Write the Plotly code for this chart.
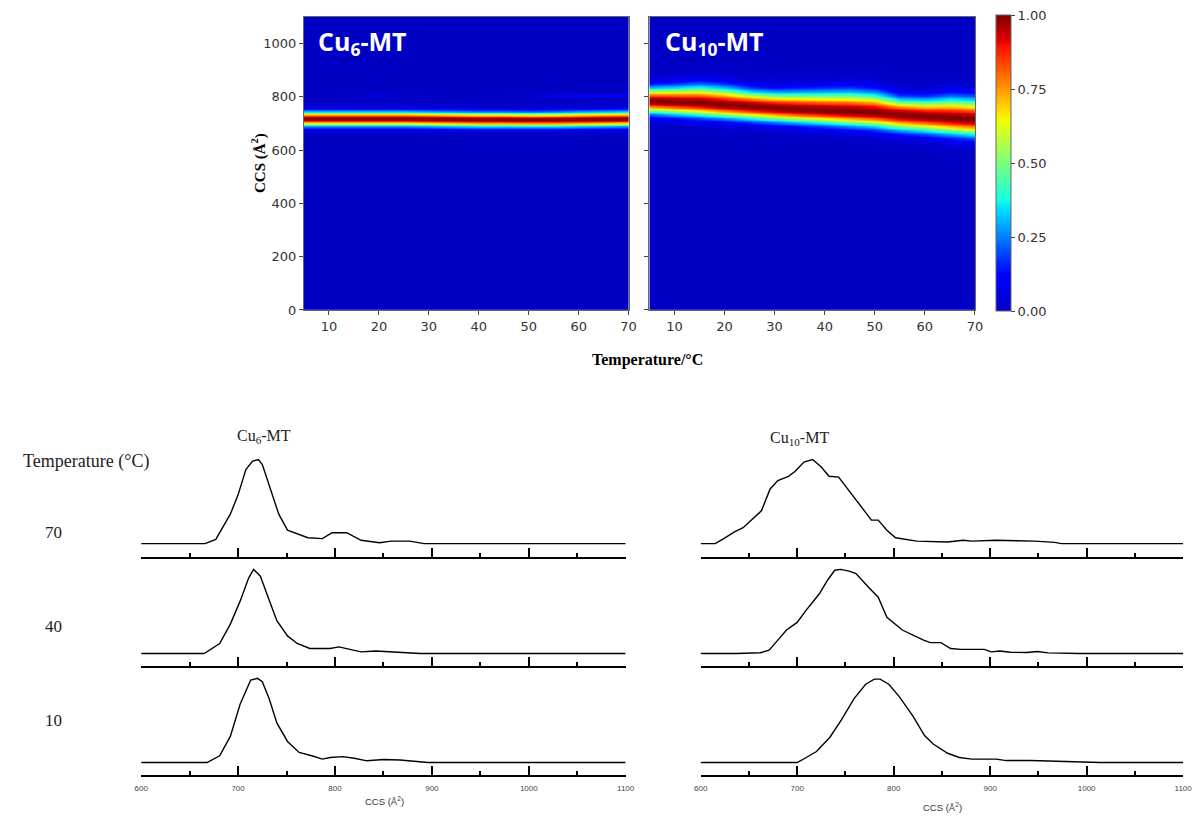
import numpy as np
import plotly.graph_objects as go

W, H = 1203, 822

# ---------------- heat-map band data (temperature scan) ----------------
temps = [5, 10, 15, 20, 25, 30, 35, 40, 45, 50, 55, 60, 65, 70]

# Cu6-MT: band centre and outer edges (Å²)
cu6_center = [719, 719, 719, 719, 719, 718, 717, 716, 716, 715, 715, 716, 717, 718]
cu6_upper = [753, 753, 753, 753, 753, 752, 751, 750, 750, 749, 750, 752, 753, 754]
cu6_lower = [684, 684, 684, 684, 684, 683, 682, 681, 681, 681, 681, 682, 683, 684]
# faint secondary species near 805 Å²
cu6_minor_pos = 805
cu6_minor_amp = [0.0, 0.0, 0.02, 0.05, 0.02, 0.0, 0.0, 0.0, 0.0, 0.02, 0.08, 0.1, 0.1, 0.1]

# Cu10-MT: band centre and outer edges (Å²)
cu10_center = [785, 782, 778, 771, 765, 759, 754, 750, 746, 742, 734, 728, 722, 718]
cu10_upper = [848, 852, 858, 852, 838, 832, 834, 836, 838, 832, 808, 806, 815, 810]
cu10_lower = [728, 722, 716, 710, 703, 697, 691, 686, 680, 674, 662, 655, 646, 638]

ccs_grid = np.arange(0, 1101, 5)

# ---------------- arrival-time spectra (CCS, normalised intensity) ----------------
cu6_70_ccs = [600, 666, 677, 692, 700, 708, 715, 721, 725, 734, 742, 751, 761, 772, 787, 797, 812,
              827, 846, 858, 877, 892, 1100]
cu6_70_int = [0, 0, 0.05, 0.35, 0.58, 0.88, 0.98, 1.0, 0.94, 0.62, 0.35, 0.16, 0.12, 0.07, 0.06, 0.13,
              0.13, 0.04, 0.01, 0.03, 0.03, 0, 0]

cu6_40_ccs = [600, 665, 681, 692, 702, 711, 716, 723, 731, 740, 751, 761, 774, 795, 804, 814, 827,
              842, 863, 888, 1100]
cu6_40_int = [0, 0, 0.12, 0.35, 0.62, 0.90, 1.0, 0.92, 0.67, 0.39, 0.21, 0.12, 0.06, 0.06, 0.08, 0.05,
              0.02, 0.03, 0.02, 0, 0]

cu6_10_ccs = [600, 668, 681, 692, 702, 713, 720, 725, 732, 740, 751, 763, 776, 787, 795, 808, 820,
              833, 850, 867, 896, 1100]
cu6_10_int = [0, 0, 0.08, 0.31, 0.69, 0.98, 1.0, 0.96, 0.76, 0.47, 0.25, 0.12, 0.08, 0.04, 0.06, 0.07,
              0.05, 0.02, 0.035, 0.03, 0, 0]

cu10_70_ccs = [600, 615, 624, 635, 644, 655, 663, 672, 680, 691, 698, 707, 716, 725, 733, 743, 755,
               768, 777, 784, 793, 802, 813, 824, 856, 872, 881, 906, 928, 946, 967, 974, 1100]
cu10_70_int = [0, 0, 0.06, 0.14, 0.19, 0.30, 0.39, 0.65, 0.75, 0.80, 0.86, 0.97, 1.0, 0.91, 0.80, 0.79,
               0.61, 0.42, 0.28, 0.28, 0.16, 0.07, 0.05, 0.03, 0.02, 0.04, 0.03, 0.04, 0.035, 0.03,
               0.015, 0, 0]

cu10_40_ccs = [600, 637, 662, 671, 680, 689, 700, 709, 723, 732, 739, 745, 754, 761, 773, 784, 793,
               809, 831, 838, 849, 859, 870, 894, 901, 910, 921, 938, 949, 960, 992, 1100]
cu10_40_int = [0, 0, 0.01, 0.04, 0.16, 0.28, 0.37, 0.51, 0.71, 0.88, 0.99, 1.0, 0.98, 0.95, 0.80, 0.67,
               0.43, 0.28, 0.16, 0.13, 0.13, 0.06, 0.05, 0.05, 0.02, 0.03, 0.016, 0.012, 0.024, 0.008,
               0, 0]

cu10_10_ccs = [600, 700, 705, 720, 734, 746, 759, 771, 780, 786, 795, 806, 820, 832, 841, 856, 868,
               881, 906, 917, 942, 971, 999, 1014, 1100]
cu10_10_int = [0, 0, 0.03, 0.13, 0.30, 0.51, 0.76, 0.93, 0.99, 0.99, 0.93, 0.78, 0.55, 0.32, 0.22,
               0.11, 0.06, 0.04, 0.04, 0.023, 0.023, 0.012, 0.004, 0, 0]

row_temps = ["70", "40", "10"]
ccs_ticks = [600, 700, 800, 900, 1000, 1100]


# ---------------- helpers ----------------
def px(x):
    return x / W


def py(y):
    return 1 - y / H


def band_matrix(center, upper, lower, minor_amp=None, minor_pos=None):
    """Gaussian band profile (separate upper/lower widths) for each temperature column."""
    y = ccs_grid[:, None].astype(float)
    c = np.asarray(center, float)[None, :]
    su = (np.asarray(upper, float) - np.asarray(center, float))[None, :] / 1.35
    sl = (np.asarray(center, float) - np.asarray(lower, float))[None, :] / 1.35
    s = np.where(y >= c, su, sl)
    z = np.exp(-((y - c) / s) ** 2)
    if minor_amp is not None:
        z = z + np.asarray(minor_amp)[None, :] * np.exp(-((y - minor_pos) / 7.0) ** 2)
    return np.clip(z, 0, 1)


z6 = band_matrix(cu6_center, cu6_upper, cu6_lower, cu6_minor_amp, cu6_minor_pos)
z10 = band_matrix(cu10_center, cu10_upper, cu10_lower)

jet = [
    [0.0, "rgb(0,0,196)"], [0.11, "rgb(0,0,255)"], [0.125, "rgb(0,0,255)"],
    [0.34, "rgb(0,219,255)"], [0.35, "rgb(0,229,247)"], [0.375, "rgb(20,255,226)"],
    [0.64, "rgb(239,255,8)"], [0.65, "rgb(247,246,0)"], [0.66, "rgb(255,236,0)"],
    [0.89, "rgb(255,19,0)"], [0.91, "rgb(232,0,0)"], [1.0, "rgb(128,0,0)"],
]

fig = go.Figure()

# ---------------- top: heat maps ----------------
hm_top, hm_bot = 17, 313
hm_boxes = [(301, 630), (651, 981)]
tick_font = dict(family="DejaVu Sans", size=13, color="#333")
for i, (z, box) in enumerate(zip([z6, z10], hm_boxes)):
    n = i + 1
    fig.add_trace(go.Heatmap(
        x=temps, y=ccs_grid, z=z, coloraxis="coloraxis", zsmooth="best",
        xaxis=f"x{n}", yaxis=f"y{n}", hoverinfo="skip",
    ))
    ax = dict(domain=[px(box[0]), px(box[1])], range=[5, 70], tickvals=[10, 20, 30, 40, 50, 60, 70],
              ticks="outside", ticklen=4, tickcolor="#444", showline=True, linecolor="#666",
              linewidth=1, mirror=True, showgrid=False, zeroline=False,
              tickfont=tick_font, anchor=f"y{n}")
    ay = dict(domain=[py(hm_bot), py(hm_top)], range=[0, 1100], tickvals=[0, 200, 400, 600, 800, 1000],
              ticks="outside", ticklen=4, tickcolor="#444", showline=True, linecolor="#666",
              linewidth=1, mirror=True, showgrid=False, zeroline=False, showticklabels=(i == 0),
              tickfont=tick_font, anchor=f"x{n}")
    fig.layout[f"xaxis{n}"] = ax
    fig.layout[f"yaxis{n}"] = ay

fig.update_layout(coloraxis=dict(
    colorscale=jet, cmin=0, cmax=1,
    colorbar=dict(
        x=px(1002), xanchor="left", xpad=0, y=py((hm_top + hm_bot) / 2), yanchor="middle", ypad=0,
        thickness=15, thicknessmode="pixels", len=hm_bot - hm_top, lenmode="pixels",
        tickvals=[0, 0.25, 0.5, 0.75, 1.0], ticktext=["0.00", "0.25", "0.50", "0.75", "1.00"],
        ticks="outside", ticklen=4, tickcolor="#444", outlinewidth=1, outlinecolor="#666",
        tickfont=tick_font,
    ),
))

# ---------------- bottom: stacked spectra ----------------
axis_lines = [562, 673, 783]
panel_h = 105
unit_px = 85.0
y_lo = -13 / unit_px
y_hi = y_lo + panel_h / unit_px
col_boxes = [(136, 627), (703, 1192)]
spectra = [
    [(cu6_70_ccs, cu6_70_int), (cu6_40_ccs, cu6_40_int), (cu6_10_ccs, cu6_10_int)],
    [(cu10_70_ccs, cu10_70_int), (cu10_40_ccs, cu10_40_int), (cu10_10_ccs, cu10_10_int)],
]

n = 3
for c, box in enumerate(col_boxes):
    for r in range(3):
        xs, ys = spectra[c][r]
        fig.add_trace(go.Scatter(
            x=xs, y=ys, mode="lines", line=dict(color="black", width=1.4),
            xaxis=f"x{n}", yaxis=f"y{n}", showlegend=False, hoverinfo="skip",
        ))
        base = axis_lines[r]
        fig.layout[f"xaxis{n}"] = dict(
            domain=[px(box[0]), px(box[1])], range=[600, 1100], anchor=f"y{n}",
            tickvals=ccs_ticks, ticks="inside", ticklen=9, tickwidth=1.5, tickcolor="black",
            minor=dict(dtick=50, tick0=600, ticks="inside", ticklen=4, tickwidth=1.5, tickcolor="black"),
            showline=True, linecolor="black", linewidth=2, showgrid=False, zeroline=False,
            showticklabels=(r == 2), ticklabelstandoff=4,
            tickfont=dict(family="Liberation Sans", size=8, color="#444"),
        )
        fig.layout[f"yaxis{n}"] = dict(
            domain=[py(base), py(base - panel_h)], range=[y_lo, y_hi], anchor=f"x{n}",
            visible=False,
        )
        n += 1

# ---------------- text ----------------
serif = "Liberation Serif"
ann = [
    dict(x=px(313), y=py(43), text="<b>Cu<sub>6</sub>-MT</b>", xanchor="left", yanchor="middle",
         font=dict(family="Open Sans", size=25, color="white")),
    dict(x=px(665), y=py(43), text="<b>Cu<sub>10</sub>-MT</b>", xanchor="left", yanchor="middle",
         font=dict(family="Open Sans", size=25, color="white")),
    dict(x=px(255), y=py(165), text="<b>CCS (Å<sup>2</sup>)</b>", textangle=-90,
         xanchor="center", yanchor="middle", font=dict(family=serif, size=15, color="black")),
    dict(x=px(649), y=py(364), text="<b>Temperature/°C</b>", xanchor="center", yanchor="middle",
         font=dict(family=serif, size=16, color="black")),
    dict(x=px(260), y=py(441), text="Cu<sub>6</sub>-MT", xanchor="center", yanchor="middle",
         font=dict(family=serif, size=16, color="#222")),
    dict(x=px(803), y=py(443), text="Cu<sub>10</sub>-MT", xanchor="center", yanchor="middle",
         font=dict(family=serif, size=16, color="#222")),
    dict(x=px(80), y=py(466), text="Temperature (°C)", xanchor="center", yanchor="middle",
         font=dict(family=serif, size=18, color="#222")),
    dict(x=px(383), y=py(809), text="CCS (Å<sup>2</sup>)", xanchor="center", yanchor="middle",
         font=dict(family="Liberation Sans", size=9.5, color="#333")),
    dict(x=px(948), y=py(815), text="CCS (Å<sup>2</sup>)", xanchor="center", yanchor="middle",
         font=dict(family="Liberation Sans", size=9.5, color="#333")),
]
for lab, yy in zip(row_temps, [538, 633, 728]):
    ann.append(dict(x=px(47), y=py(yy), text=lab, xanchor="center", yanchor="middle",
                    font=dict(family=serif, size=17, color="#222")))
for a in ann:
    a.update(xref="paper", yref="paper", showarrow=False)

fig.update_layout(
    width=W, height=H, margin=dict(l=0, r=0, t=0, b=0),
    paper_bgcolor="white", plot_bgcolor="white", showlegend=False, annotations=ann,
)

fig.write_html("out.html")
